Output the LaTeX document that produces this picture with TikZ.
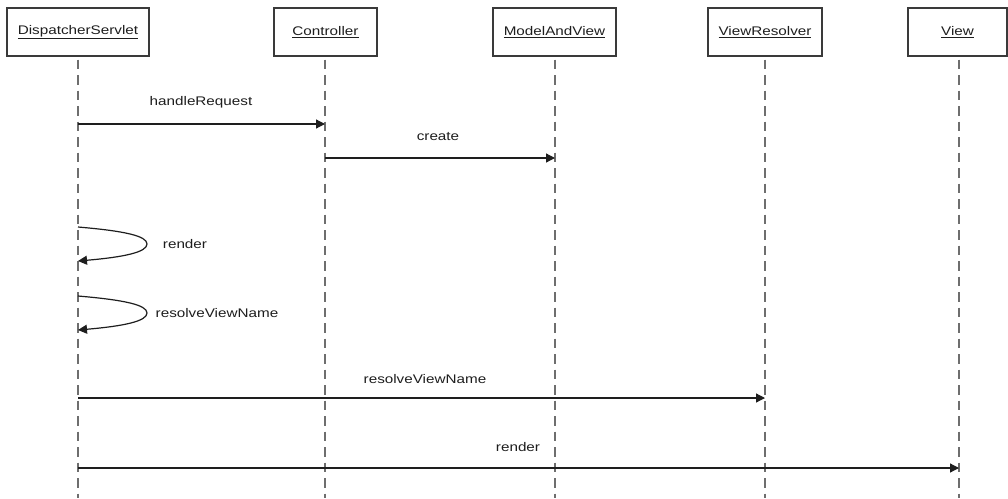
\documentclass[tikz,border=0pt]{standalone}
\usepackage{fontspec}
\setmainfont{Liberation Sans}[FakeStretch=1.22]
\usetikzlibrary{arrows.meta}
\definecolor{boxline}{HTML}{3A3A3A}
\definecolor{lifeline}{HTML}{6E6E6E}
\definecolor{msgline}{HTML}{1E1E1E}
\definecolor{txt}{HTML}{1E1E1E}
\tikzset{
  part/.style={draw=boxline, line width=1.1pt, fill=white, minimum height=48pt, inner sep=0pt, text=txt, font=\fontsize{12.5}{15}\selectfont},
  life/.style={draw=lifeline, line width=1.3pt, dash pattern=on 9.5pt off 6pt},
  msg/.style={draw=msgline, line width=1.2pt, -{Triangle[length=9pt,width=9pt]}},
  lbl/.style={text=txt, inner sep=0pt, font=\fontsize{12.5}{15}\selectfont}
}
\begin{document}
\begin{tikzpicture}[x=1pt,y=-1pt]
\useasboundingbox (0,0) rectangle (1008,498);
\fill[white] (0,0) rectangle (1008,498);
% participants
\node[part, minimum width=142pt] (ds) at (78,32) {\underline{DispatcherServlet}};
\node[part, minimum width=103pt] (ctl) at (325.5,32) {\underline{Controller}};
\node[part, minimum width=123pt] (mav) at (554.5,32) {\underline{ModelAndView}};
\node[part, minimum width=114pt] (vr) at (765,32) {\underline{ViewResolver}};
\node[part, minimum width=99pt] (vw) at (957.5,32) {\underline{View}};
% lifeline ends
\coordinate (dsE) at (78,498);
\coordinate (ctlE) at (325,498);
\coordinate (mavE) at (555,498);
\coordinate (vrE) at (765,498);
\coordinate (vwE) at (959,498);
\draw[life] ([yshift=-3pt]ds.south) -- (dsE);
\draw[life] ([yshift=-3pt,xshift=-0.5pt]ctl.south) -- (ctlE);
\draw[life] ([yshift=-3pt,xshift=0.5pt]mav.south) -- (mavE);
\draw[life] ([yshift=-3pt]vr.south) -- (vrE);
\draw[life] ([yshift=-3pt,xshift=1.5pt]vw.south) -- (vwE);
% message end points
\coordinate (m1a) at (78,124);  \coordinate (m1b) at (325,124);
\coordinate (m2a) at (325,158); \coordinate (m2b) at (555,158);
\coordinate (m3a) at (78,227);  \coordinate (m3b) at (78,261);
\coordinate (m4a) at (78,296);  \coordinate (m4b) at (78,330);
\coordinate (m5a) at (78,398);  \coordinate (m5b) at (765,398);
\coordinate (m6a) at (78,468);  \coordinate (m6b) at (959,468);
% messages
\draw[msg] (m1a) -- (m1b);
\node[lbl] (l1) at (201,102) {handleRequest};
\draw[msg] (m2a) -- (m2b);
\node[lbl] (l2) at (438,137) {create};
\draw[msg] (m3a) .. controls (125,231) and (147,236) .. (147,244) .. controls (147,252) and (125,257) .. (m3b);
\node[lbl] (l3) at (185,244) {render};
\draw[msg] (m4a) .. controls (125,300) and (147,305) .. (147,313) .. controls (147,321) and (125,326) .. (m4b);
\node[lbl] (l4) at (217,313) {resolveViewName};
\draw[msg] (m5a) -- (m5b);
\node[lbl] (l5) at (425,379) {resolveViewName};
\draw[msg] (m6a) -- (m6b);
\node[lbl] (l6) at (518,447) {render};
\end{tikzpicture}
\end{document}
